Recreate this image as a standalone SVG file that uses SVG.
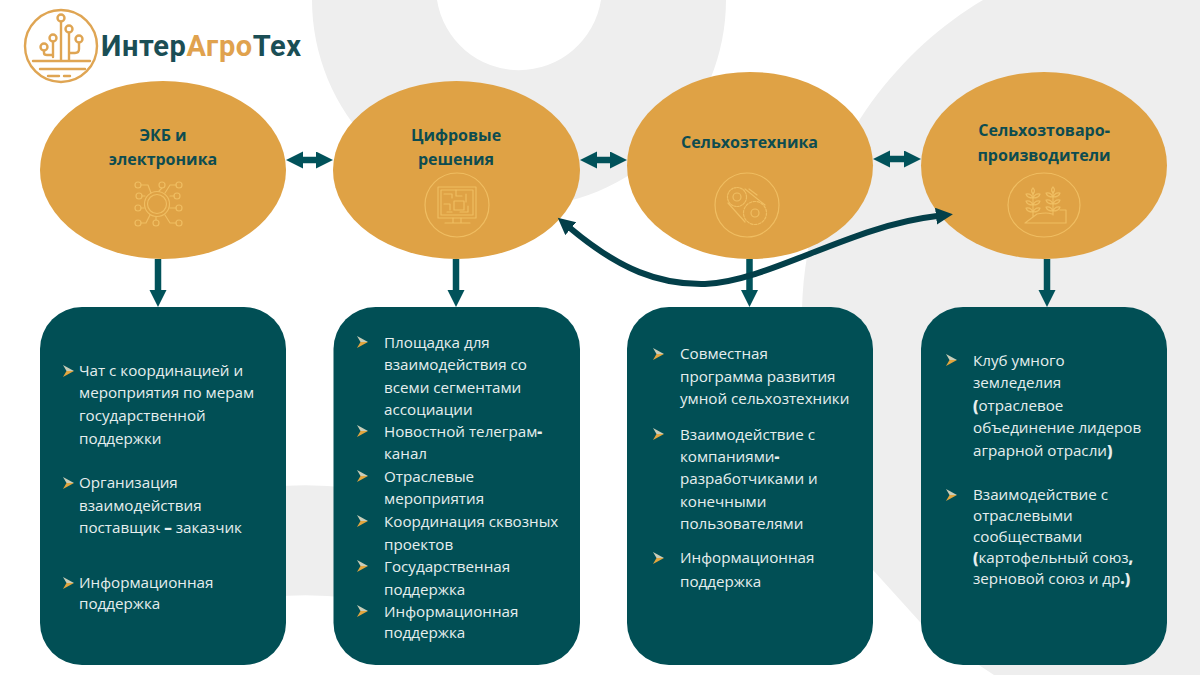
<svg xmlns="http://www.w3.org/2000/svg" width="1200" height="675" viewBox="0 0 1200 675">
<defs>
<style>
.bg{fill:#eeeeee}
.oval{fill:#dfa245}
.card{fill:#014f55}
.ttl{font-family:"Open Sans","Liberation Sans",sans-serif;font-weight:700;font-size:16px;fill:#0d4c50;text-anchor:middle}
.txt{font-family:"Open Sans","Liberation Sans",sans-serif;font-size:15.2px;fill:#e6eeee}
.b{font-weight:800}
.logo{font-family:Roboto,"Liberation Sans",sans-serif;font-weight:700;font-size:29px;letter-spacing:.6px}
.ic{fill:none;stroke:#f2c266;stroke-opacity:.85;stroke-width:1.2;stroke-linecap:round;stroke-linejoin:round}
.lg{fill:none;stroke:#dfa553;stroke-width:2.4;stroke-linecap:round;stroke-linejoin:round}
.st{fill:none;stroke:#01525a;stroke-width:6.5}
.cv{fill:none;stroke:#033f49;stroke-width:6}
</style>
<marker id="head" markerUnits="userSpaceOnUse" markerWidth="18" markerHeight="18" refX="1" refY="8.5" orient="auto-start-reverse"><path d="M0 0L17 8.500L0 17Z" fill="#01525a"/></marker>
<marker id="headc" markerUnits="userSpaceOnUse" markerWidth="18" markerHeight="18" refX="1" refY="8.500" orient="auto-start-reverse"><path d="M0 0L17 8.500L0 17Z" fill="#033f49"/></marker>
<g id="bul"><path d="M0 0L11 6L3.500 6Z" fill="#c9cdb8"/><path d="M0 12L11 6L3.500 6Z" fill="#e2a63f"/></g>
</defs>
<rect width="1200" height="675" fill="#ffffff"/>
<g id="background">
<path class="bg" fill-rule="evenodd" d="M312 0A207 207 0 0 0 726 0ZM437 0A83 83 0 0 0 601 0Z"/>
<path class="bg" d="M983 0C890 55 805 165 802 310L802 495L873 570L920 622Q955 650 994 675L1200 675L1200 0Z"/>
<path class="bg" d="M270 487Q310 483 350 488L350 598Q310 593 270 597Z"/>
</g>
<g id="logo">
<circle class="lg" cx="61" cy="46" r="36" stroke-width="3"/>
<path class="lg" d="M61 22V61M69 33V61M69 53H75Q79 53 79 49V43M53 42V57M44 51V53Q44 55 47 55H53M33 61H90M40 69H85"/>
<path class="lg" d="M48 76H59M64 76H70" stroke-width="2.600"/>
<circle class="lg" cx="61" cy="18" r="3.500"/><circle class="lg" cx="69" cy="29" r="3.500"/><circle class="lg" cx="53" cy="38" r="3.500"/><circle class="lg" cx="79" cy="39" r="3.500"/><circle class="lg" cx="44" cy="47" r="3.500"/>
<text class="logo" x="101" y="56"><tspan fill="#1a4e55">Интер</tspan><tspan fill="#e0a24e">Агро</tspan><tspan fill="#1a4e55">Тех</tspan></text>
</g>
<g id="connectors">
<path class="st" d="M302 160H317" marker-start="url(#head)" marker-end="url(#head)"/>
<path class="st" d="M596 160H611" marker-start="url(#head)" marker-end="url(#head)"/>
<path class="st" d="M889 159H905" marker-start="url(#head)" marker-end="url(#head)"/>
<path class="st" d="M158 259V291" marker-end="url(#head)"/>
<path class="st" d="M456 259V291" marker-end="url(#head)"/>
<path class="st" d="M749.500 259V291" marker-end="url(#head)"/>
<path class="st" d="M1047 259V291" marker-end="url(#head)"/>
</g>
<g id="node-ekb">
<ellipse class="oval" cx="163" cy="170" rx="123" ry="89"/>
<text class="ttl" x="163" y="141">ЭКБ и</text><text class="ttl" x="163" y="165">электроника</text>
<g class="ic"><circle cx="157" cy="204" r="9.500"/><circle cx="157" cy="204" r="12.500"/>
<circle cx="138" cy="185" r="3"/><circle cx="162" cy="185" r="3"/><circle cx="179" cy="185" r="3"/><circle cx="139" cy="196" r="3"/><circle cx="177" cy="196" r="3"/><circle cx="138" cy="208" r="3"/><circle cx="179" cy="208" r="3"/><circle cx="138" cy="223" r="3"/><circle cx="156" cy="223" r="3"/><circle cx="179" cy="223" r="3"/>
<path d="M141 185H148L151 193M162 188L159 191M176 185H170L165 193M142 196H145M174 196H170M141 208H144M176 208H170M141 223H146L150 215M156 220V217M176 223H170L165 215"/></g>
</g>
<g id="node-digital">
<ellipse class="oval" cx="456.500" cy="170" rx="123.500" ry="89"/>
<text class="ttl" x="456" y="141">Цифровые</text><text class="ttl" x="456" y="165">решения</text>
<g class="ic"><circle cx="457" cy="205" r="32"/><rect x="438" y="187" width="38" height="31"/><rect x="441" y="190" width="32" height="25"/><path d="M445 223H470M453 218V223M461 218V223M444 194H452V198M456 190V196H462M466 194V202M444 204H450V210M454 201H464V210H454ZM468 206V212H460M447 212H452"/></g>
</g>
<g id="node-machinery">
<ellipse class="oval" cx="750" cy="165.500" rx="123" ry="93.500"/>
<text class="ttl" x="749.500" y="148">Сельхозтехника</text>
<g class="ic"><circle cx="747" cy="205" r="32"/><circle cx="737" cy="197" r="9.500" stroke-dasharray="2 1.200"/><circle cx="737" cy="197" r="4"/><circle cx="755" cy="213" r="11.500" stroke-dasharray="2.500 1.500"/><circle cx="755" cy="213" r="4"/><path d="M745 189L765 205M728 203L745 222M749 189L757 195"/></g>
</g>
<g id="node-producers">
<ellipse class="oval" cx="1044" cy="165.500" rx="123" ry="93.500"/>
<text class="ttl" x="1044" y="136">Сельхозтоваро<tspan class="b">-</tspan></text><text class="ttl" x="1044" y="161">производители</text>
<g class="ic"><ellipse cx="1044" cy="205" rx="36" ry="32"/><path d="M1025 223H1066V210H1060M1025 223L1037 214Q1047 212 1052 214M1033 192V217M1053 191V215"/>
<path d="M1033 188Q1030 191 1033 194Q1036 191 1033 188ZM1033 198Q1027 198 1026 194Q1031 193 1033 198ZM1033 198Q1039 198 1040 194Q1035 193 1033 198ZM1033 205Q1027 205 1026 201Q1031 200 1033 205ZM1033 205Q1039 205 1040 201Q1035 200 1033 205ZM1033 212Q1027 212 1026 208Q1031 207 1033 212ZM1033 212Q1039 212 1040 208Q1035 207 1033 212Z"/>
<path d="M1053 187Q1050 190 1053 193Q1056 190 1053 187ZM1053 197Q1047 197 1046 193Q1051 192 1053 197ZM1053 197Q1059 197 1060 193Q1055 192 1053 197ZM1053 204Q1047 204 1046 200Q1051 199 1053 204ZM1053 204Q1059 204 1060 200Q1055 199 1053 204ZM1053 211Q1047 211 1046 207Q1051 206 1053 211ZM1053 211Q1059 211 1060 207Q1055 206 1053 211Z"/></g>
</g>
<g id="connector-curve">
<path class="cv" d="M570 228C620 270 660 285 705 284C770 281 850 226 937 216" marker-start="url(#headc)" marker-end="url(#headc)"/>
</g>
<g id="card-ekb">
<rect class="card" x="40" y="307" width="246" height="358" rx="42"/>
<use href="#bul" x="63" y="365"/><use href="#bul" x="63" y="477"/><use href="#bul" x="63" y="577"/>
<text class="txt" x="79" y="376">Чат с координацией и</text>
<text class="txt" x="79" y="398">мероприятия по мерам</text>
<text class="txt" x="79" y="421">государственной</text>
<text class="txt" x="79" y="444">поддержки</text>
<text class="txt" x="79" y="488">Организация</text>
<text class="txt" x="79" y="511">взаимодействия</text>
<text class="txt" x="79" y="533">поставщик <tspan class="b">–</tspan> заказчик</text>
<text class="txt" x="79" y="588">Информационная</text>
<text class="txt" x="79" y="609">поддержка</text>
</g>
<g id="card-digital">
<rect class="card" x="333.500" y="307" width="246.500" height="358" rx="42"/>
<use href="#bul" x="357" y="336"/><use href="#bul" x="357" y="425"/><use href="#bul" x="357" y="470"/><use href="#bul" x="357" y="515"/><use href="#bul" x="357" y="560"/><use href="#bul" x="357" y="605"/>
<text class="txt" x="384" y="348">Площадка для</text>
<text class="txt" x="384" y="370">взаимодействия со</text>
<text class="txt" x="384" y="393">всеми сегментами</text>
<text class="txt" x="384" y="415">ассоциации</text>
<text class="txt" x="384" y="437">Новостной телеграм<tspan class="b">-</tspan></text>
<text class="txt" x="384" y="459">канал</text>
<text class="txt" x="384" y="482">Отраслевые</text>
<text class="txt" x="384" y="504">мероприятия</text>
<text class="txt" x="384" y="527">Координация сквозных</text>
<text class="txt" x="384" y="550">проектов</text>
<text class="txt" x="384" y="572">Государственная</text>
<text class="txt" x="384" y="595">поддержка</text>
<text class="txt" x="384" y="617">Информационная</text>
<text class="txt" x="384" y="638">поддержка</text>
</g>
<g id="card-machinery">
<rect class="card" x="627" y="307" width="246" height="358" rx="42"/>
<use href="#bul" x="653" y="348"/><use href="#bul" x="653" y="428"/><use href="#bul" x="653" y="552"/>
<text class="txt" x="680" y="359">Совместная</text>
<text class="txt" x="680" y="382">программа развития</text>
<text class="txt" x="680" y="404">умной сельхозтехники</text>
<text class="txt" x="680" y="440">Взаимодействие с</text>
<text class="txt" x="680" y="462">компаниями<tspan class="b">-</tspan></text>
<text class="txt" x="680" y="484">разработчиками и</text>
<text class="txt" x="680" y="507">конечными</text>
<text class="txt" x="680" y="529">пользователями</text>
<text class="txt" x="680" y="563">Информационная</text>
<text class="txt" x="680" y="587">поддержка</text>
</g>
<g id="card-producers">
<rect class="card" x="921" y="307" width="246" height="358" rx="42"/>
<use href="#bul" x="946" y="354"/><use href="#bul" x="946" y="489"/>
<text class="txt" x="973" y="366">Клуб умного</text>
<text class="txt" x="973" y="388">земледелия</text>
<text class="txt" x="973" y="411"><tspan class="b">(</tspan>отраслевое</text>
<text class="txt" x="973" y="433">объединение лидеров</text>
<text class="txt" x="973" y="456">аграрной отрасли<tspan class="b">)</tspan></text>
<text class="txt" x="973" y="500">Взаимодействие с</text>
<text class="txt" x="973" y="521">отраслевыми</text>
<text class="txt" x="973" y="542">сообществами</text>
<text class="txt" x="973" y="563"><tspan class="b">(</tspan>картофельный союз<tspan class="b">,</tspan></text>
<text class="txt" x="973" y="584">зерновой союз и др<tspan class="b">.)</tspan></text>
</g>
</svg>
